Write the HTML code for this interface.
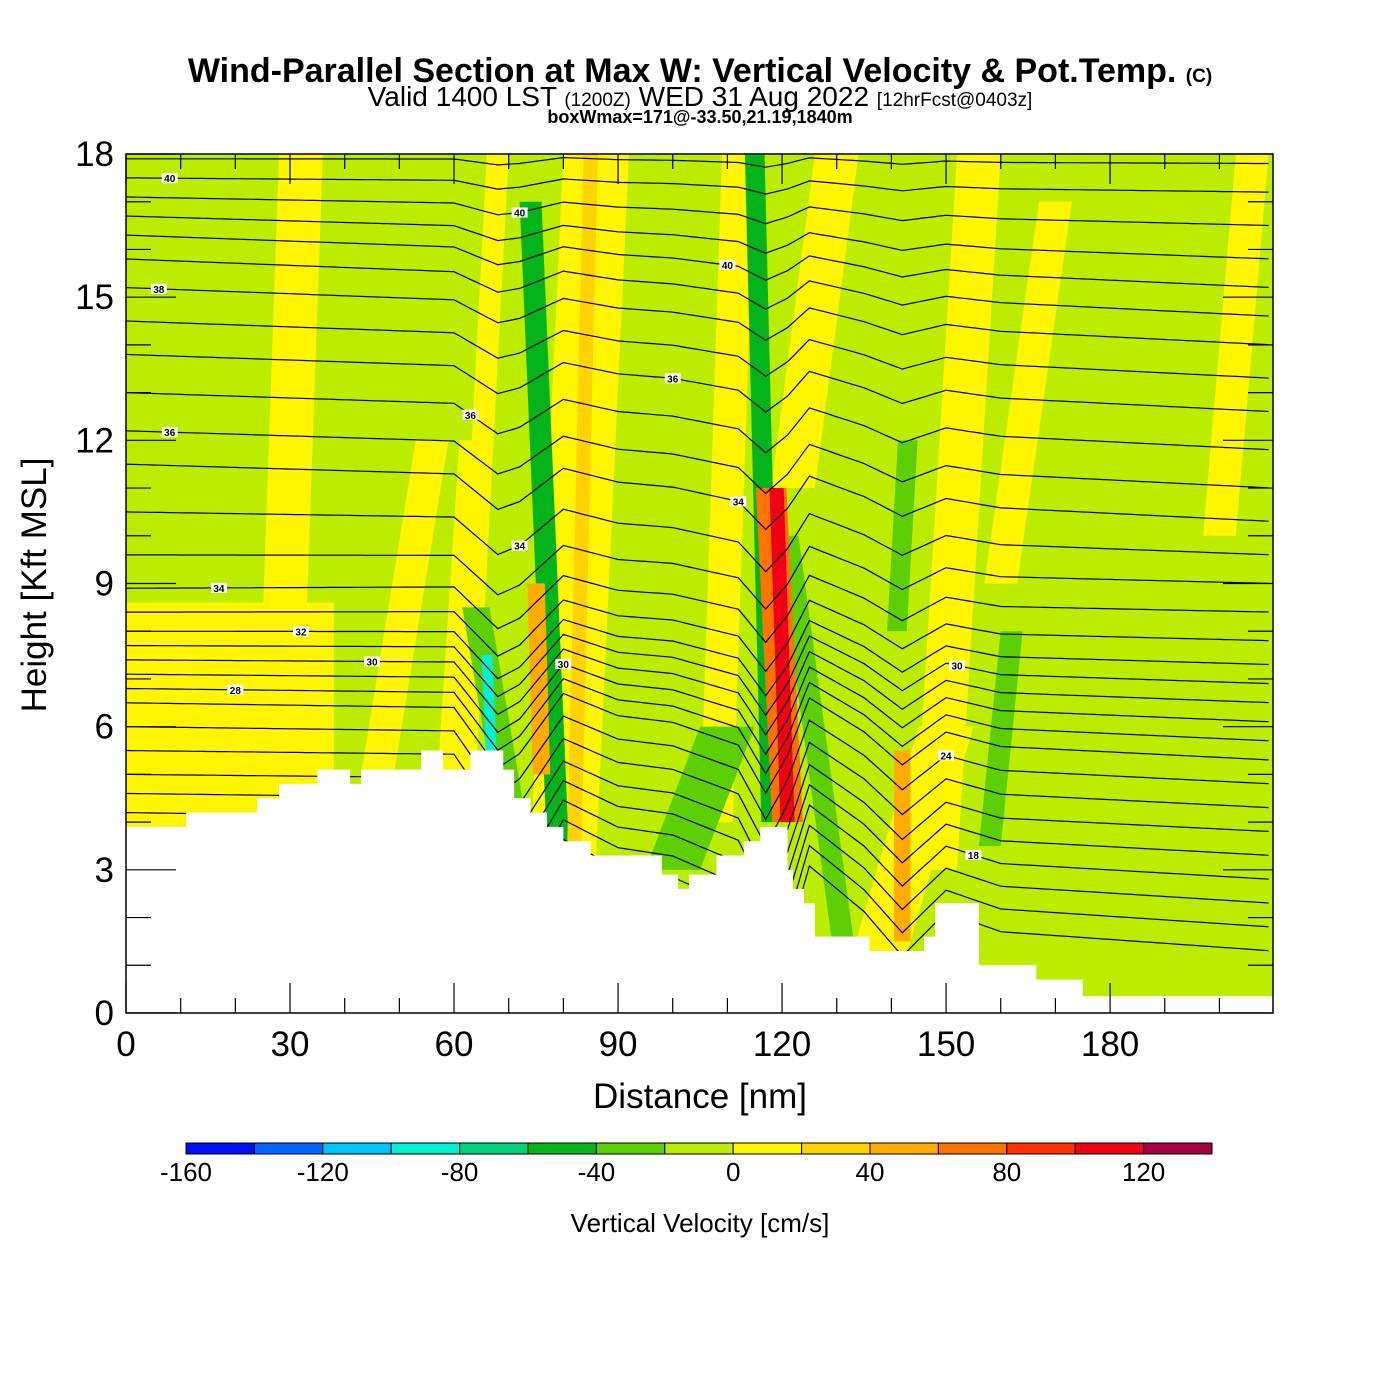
<!DOCTYPE html>
<html><head><meta charset="utf-8"><style>
body{margin:0;background:#fff}
svg{display:block;font-family:"Liberation Sans",sans-serif}
</style></head><body>
<svg id="c" width="1400" height="1400" viewBox="0 0 1400 1400">
<text x="700" y="82" text-anchor="middle" font-size="34" font-weight="bold">Wind-Parallel Section at Max W: Vertical Velocity &amp; Pot.Temp. <tspan font-size="19">(C)</tspan></text>
<text x="700" y="106" text-anchor="middle" font-size="28">Valid 1400 LST <tspan font-size="19">(1200Z)</tspan> WED 31 Aug 2022 <tspan font-size="19">[12hrFcst@0403z]</tspan></text>
<text x="700" y="123" text-anchor="middle" font-size="18" font-weight="bold">boxWmax=171@-33.50,21.19,1840m</text>
<g id="plot"></g>
<text x="700" y="1108" text-anchor="middle" font-size="35">Distance [nm]</text>
<text transform="translate(46,585) rotate(-90)" text-anchor="middle" font-size="35">Height [Kft MSL]</text>
<g id="cbar"></g>
<text x="700" y="1232" text-anchor="middle" font-size="26">Vertical Velocity [cm/s]</text>
</svg>
<script>
const xTicks=[0,30,60,90,120,150,180];
const yTicks=[0,3,6,9,12,15,18];
const cbLevels=[-160,-140,-120,-100,-80,-60,-40,-20,0,20,40,60,80,100,120,140];
const cbColors=["#0010ff","#0064ff","#00c4ff","#00f0d2","#00d278","#05b41a","#5ccf05","#bced00","#fff500","#ffd200","#ffab00","#ff7300","#ff3200","#f00014","#a50040"];
const cbLabels=[-160,-120,-80,-40,0,40,80,120];
const terrX=[0,11,24,28,35,41,43,54,58,63,69,71,74,77,80,85,98,101,103,108,113,116,120,121,122,124,126,136,146,148,151,156,166.5,175,210];
const terrH=[3.9,4.2,4.5,4.8,5.1,4.8,5.1,5.5,5.1,5.5,5.1,4.5,4.2,3.9,3.6,3.3,2.9,2.6,2.9,3.3,3.6,3.9,3.9,3.0,2.6,2.3,1.6,1.3,1.6,2.3,2.3,1.0,0.7,0.35,0.35];
// w features: [xBottom, xTop, yBottom, yTop, halfWidth, w value]
const wX0=[19,28,46,60,62,80,108,122,148,160,200,138,70,79,100,118,131,141,158,76,82,121,121,142,67];
const wX1=[19,32,56,64,68,86,112,130,156,170,206,150,64,74,110,115,121,143,162,75,85,118,119,142,66];
const wY0=[3,5,5,5,5,3.3,4,11,3,9,10,1.3,4.5,3.5,3.0,4,1.6,8,3.5,5,3.5,4,4,1.5,5];
const wY1=[8.6,18,12,12,18,18,18,18,18,17,18,6,8.5,17,6,18,10,12,8,9,18,11,11,5.5,7.5];
const wHW=[19,4,3,3,2,6,3,4,4,3,3,5,2.5,2,5,1.8,2,1.8,2,1.6,1.3,2.8,1.3,1.5,1];
const wVal=[10,10,10,10,10,10,10,10,10,10,10,10,-30,-50,-30,-50,-30,-30,-30,50,30,70,110,50,-90];
const thetaLeft=[17.9,17.5,17.1,16.7,16.3,15.8,15.2,14.5,13.8,13.0,12.2,11.5,10.5,9.6,8.9,8.4,8.0,7.7,7.4,7.1,6.8,6.5,6.0,5.5,5.0,4.6,4.2,3.8,3.4,3.0];
const thetaRight=[17.8,17.2,16.5,15.8,15.2,14.6,14.0,13.3,12.6,11.8,11.0,10.3,9.6,9.0,8.4,7.8,7.3,6.9,6.5,6.1,5.7,5.3,4.8,4.3,3.8,3.3,2.8,2.3,1.8,1.3];
const pertX=[0,40,60,68,72,80,90,100,112,117,121,125,135,142,150,160,180,210];
const pertV=[0,0.2,0.3,-1.2,-0.8,0.8,0.3,0.2,-0.3,-1.5,-0.5,1.0,0.2,-0.6,0.3,0,0,0];
const labIdx=[1,6,10,14,16,18,20,2,9,12,19,4,8,11,17,22,26];
const labX=[8,6,8,17,32,45,20,72,63,72,80,110,100,112,152,150,155];
const labTxt=["40","38","36","34","32","30","28","40","36","34","30","40","36","34","30","24","18"];

const X0=126,X1=1273,Y0=1013,Y1=154,XMAX=209.8,YMAX=18;
const sx=v=>X0+v*(X1-X0)/XMAX, sy=v=>Y0-v*(Y0-Y1)/YMAX;
const NS="http://www.w3.org/2000/svg";
function mk(t,p,a){const e=document.createElementNS(NS,t);for(const k in a)e.setAttribute(k,a[k]);p.appendChild(e);return e;}
function colorOf(v){for(let i=0;i<cbColors.length;i++)if(v<cbLevels[i+1])return cbColors[i];return cbColors[cbColors.length-1];}
function interp(xs,vs,x){if(x<=xs[0])return vs[0];for(let i=1;i<xs.length;i++)if(x<=xs[i]){const t=(x-xs[i-1])/(xs[i]-xs[i-1]);return vs[i-1]+t*(vs[i]-vs[i-1]);}return vs[vs.length-1];}
const plot=document.getElementById('plot');
const defs=mk('defs',plot,{});
const cp=mk('clipPath',defs,{id:'pc'});mk('rect',cp,{x:X0,y:Y1,width:X1-X0,height:Y0-Y1});
const bg=mk('rect',plot,{x:X0,y:Y1,width:X1-X0,height:Y0-Y1,fill:cbColors[7]});


const fg=mk('g',plot,{'clip-path':'url(#pc)'});


for(let i=0;i<wVal.length;i++){
  const a=wX0[i],b=wX1[i],h=wHW[i];
  const pts=[[a-h,wY0[i]],[a+h,wY0[i]],[b+h,wY1[i]],[b-h,wY1[i]]].map(p=>sx(p[0])+','+sy(p[1])).join(' ');
  const p=mk('polygon',fg,{points:pts,fill:colorOf(wVal[i])});
  
  
}
const cg=mk('g',plot,{'clip-path':'url(#pc)',fill:'none',stroke:'#000','stroke-width':1.2});


const lines=[];
for(let i=0;i<thetaLeft.length;i++){
  const amp=0.08+i*0.035;let d='';const arr=[];
  for(let x=0;x<=XMAX;x+=1){const h=thetaLeft[i]+(thetaRight[i]-thetaLeft[i])*x/XMAX+amp*interp(pertX,pertV,x);arr.push(h);d+=(x?'L':'M')+sx(x).toFixed(1)+','+sy(h).toFixed(1);}
  lines.push(arr);
  const p=mk('path',cg,{d:d});
  
  
}
let td='M'+sx(0)+','+sy(0);
for(let i=0;i<terrX.length-1;i++){td+='L'+sx(terrX[i])+','+sy(terrH[i])+'L'+sx(terrX[i+1])+','+sy(terrH[i]);}
td+='L'+sx(XMAX)+','+sy(terrH[terrH.length-1])+'L'+sx(XMAX)+','+sy(0)+'Z';
const tp=mk('path',plot,{d:td,fill:'#fff','clip-path':'url(#pc)'});


for(let k=0;k<labIdx.length;k++){
  const h=lines[labIdx[k]][Math.round(labX[k])];const x=sx(labX[k]),y=sy(h);
  const g=mk('g',plot,{});
  
  
  mk('rect',g,{x:x-8,y:y-5,width:16,height:10,fill:'#fff'});
  const t=mk('text',g,{x:x,y:y+4,'text-anchor':'middle','font-size':10,'font-weight':'bold'});t.textContent=labTxt[k];
}
const fr=mk('rect',plot,{x:X0,y:Y1,width:X1-X0,height:Y0-Y1,fill:'none',stroke:'#000','stroke-width':1.5});


for(let v=0;v<=XMAX;v+=10){const big=v%30===0;const x=sx(v);
  mk('line',plot,{x1:x,x2:x,y1:Y0,y2:Y0-(big?30:15),stroke:'#000','stroke-width':1.2});
  mk('line',plot,{x1:x,x2:x,y1:Y1,y2:Y1+(big?30:15),stroke:'#000','stroke-width':1.2});}
for(let v=0;v<=18;v+=1){const big=v%3===0;const y=sy(v);
  mk('line',plot,{x1:X0,x2:X0+(big?50:25),y1:y,y2:y,stroke:'#000','stroke-width':1.2});
  mk('line',plot,{x1:X1,x2:X1-(big?50:25),y1:y,y2:y,stroke:'#000','stroke-width':1.2});}
xTicks.forEach(v=>{const t=mk('text',plot,{x:sx(v),y:1056,'text-anchor':'middle','font-size':35});t.textContent=v;
  
  });
yTicks.forEach(v=>{const t=mk('text',plot,{x:114,y:sy(v)+12,'text-anchor':'end','font-size':35});t.textContent=v;
  
  });
const cb=document.getElementById('cbar');
const cx=v=>186+(v+160)*(1212-186)/300;
for(let i=0;i<cbColors.length;i++){const r=mk('rect',cb,{x:cx(cbLevels[i]),y:1143,width:cx(cbLevels[i+1])-cx(cbLevels[i]),height:11,fill:cbColors[i],stroke:'#000','stroke-width':1});
  
  }
cbLabels.forEach(v=>{const t=mk('text',cb,{x:cx(v),y:1181,'text-anchor':'middle','font-size':26});t.textContent=v;
  
  });
</script>
</body></html>
